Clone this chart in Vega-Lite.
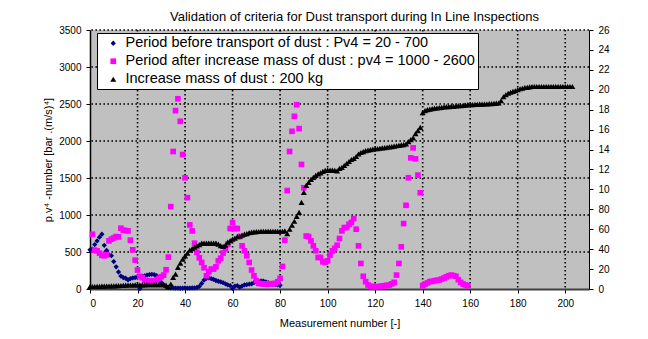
{
  "$schema": "https://vega.github.io/schema/vega-lite/v6.json",
  "width": 499,
  "height": 259,
  "autosize": {"type": "none"},
  "padding": {"left": 90, "top": 30, "right": 59, "bottom": 50},
  "background": "white",
  "config": {"font": "Liberation Sans", "view": {"fill": "#C0C0C0", "stroke": null}},
  "title": {"text": "Validation of criteria for Dust transport during In Line Inspections", "fontSize": 13, "fontWeight": "normal", "color": "black", "offset": 1, "dx": 15, "anchor": "middle"},
  "datasets": {
    "gx": [{"n":20},{"n":40},{"n":60},{"n":80},{"n":100},{"n":120},{"n":140},{"n":160},{"n":180},{"n":200}],
    "gy": [{"v":500},{"v":1000},{"v":1500},{"v":2000},{"v":2500},{"v":3000},{"v":3500}],
    "pts": [
      {"s":"B","n":0,"v":530},{"s":"B","n":1,"v":540},{"s":"B","n":2,"v":600},{"s":"B","n":3,"v":650},{"s":"B","n":4,"v":700},{"s":"B","n":5,"v":740},{"s":"B","n":6,"v":590},{"s":"B","n":7,"v":520},{"s":"B","n":8,"v":460},{"s":"B","n":9,"v":450},
      {"s":"B","n":10,"v":370},{"s":"B","n":11,"v":300},{"s":"B","n":12,"v":230},{"s":"B","n":13,"v":175},{"s":"B","n":14,"v":155},{"s":"B","n":15,"v":145},{"s":"B","n":16,"v":125},{"s":"B","n":17,"v":140},{"s":"B","n":18,"v":150},{"s":"B","n":19,"v":155},
      {"s":"B","n":20,"v":160},{"s":"B","n":21,"v":5},{"s":"B","n":22,"v":170},{"s":"B","n":23,"v":178},{"s":"B","n":24,"v":188},{"s":"B","n":25,"v":195},{"s":"B","n":26,"v":198},{"s":"B","n":27,"v":195},{"s":"B","n":28,"v":180},{"s":"B","n":29,"v":140},
      {"s":"B","n":30,"v":90},{"s":"B","n":31,"v":55},{"s":"B","n":32,"v":30},{"s":"B","n":33,"v":20},{"s":"B","n":34,"v":15},{"s":"B","n":35,"v":15},{"s":"B","n":36,"v":12},{"s":"B","n":37,"v":12},{"s":"B","n":38,"v":10},{"s":"B","n":39,"v":12},
      {"s":"B","n":40,"v":15},{"s":"B","n":41,"v":12},{"s":"B","n":42,"v":12},{"s":"B","n":43,"v":15},{"s":"B","n":44,"v":15},{"s":"B","n":45,"v":20},{"s":"B","n":46,"v":35},{"s":"B","n":47,"v":75},{"s":"B","n":48,"v":120},{"s":"B","n":49,"v":145},
      {"s":"B","n":50,"v":150},{"s":"B","n":51,"v":140},{"s":"B","n":52,"v":130},{"s":"B","n":53,"v":115},{"s":"B","n":54,"v":105},{"s":"B","n":55,"v":95},{"s":"B","n":56,"v":85},{"s":"B","n":57,"v":70},{"s":"B","n":58,"v":55},{"s":"B","n":59,"v":45},
      {"s":"B","n":60,"v":5},{"s":"B","n":61,"v":40},{"s":"B","n":62,"v":45},{"s":"B","n":63,"v":25},{"s":"B","n":64,"v":40},{"s":"B","n":65,"v":55},{"s":"B","n":66,"v":60},{"s":"B","n":67,"v":65},{"s":"B","n":68,"v":70},{"s":"B","n":69,"v":85},
      {"s":"B","n":70,"v":95},{"s":"B","n":71,"v":100},{"s":"B","n":72,"v":110},{"s":"B","n":73,"v":105},{"s":"B","n":74,"v":95},{"s":"B","n":75,"v":85},{"s":"B","n":76,"v":75},{"s":"B","n":77,"v":65},{"s":"B","n":78,"v":60},{"s":"B","n":79,"v":55},{"s":"B","n":80,"v":50},
      {"s":"M","n":1,"v":740},{"s":"M","n":2,"v":525},{"s":"M","n":3,"v":516},{"s":"M","n":4,"v":485},{"s":"M","n":5,"v":455},{"s":"M","n":6,"v":449},{"s":"M","n":7,"v":462},{"s":"M","n":8,"v":651},{"s":"M","n":9,"v":673},
      {"s":"M","n":10,"v":690},{"s":"M","n":11,"v":709},{"s":"M","n":12,"v":704},{"s":"M","n":13,"v":821},{"s":"M","n":14,"v":794},{"s":"M","n":15,"v":790},{"s":"M","n":16,"v":785},{"s":"M","n":17,"v":660},{"s":"M","n":18,"v":529},{"s":"M","n":19,"v":390},
      {"s":"M","n":20,"v":256},{"s":"M","n":21,"v":171},{"s":"M","n":22,"v":153},{"s":"M","n":23,"v":112},{"s":"M","n":24,"v":103},{"s":"M","n":25,"v":112},{"s":"M","n":26,"v":110},{"s":"M","n":27,"v":108},{"s":"M","n":28,"v":121},{"s":"M","n":29,"v":144},
      {"s":"M","n":30,"v":165},{"s":"M","n":31,"v":188},{"s":"M","n":32,"v":260},{"s":"M","n":33,"v":431},{"s":"M","n":34,"v":1113},{"s":"M","n":35,"v":1858},{"s":"M","n":36,"v":2410},{"s":"M","n":37,"v":2571},{"s":"M","n":38,"v":2266},{"s":"M","n":39,"v":1817},
      {"s":"M","n":40,"v":1503},{"s":"M","n":41,"v":1234},{"s":"M","n":42,"v":866},{"s":"M","n":43,"v":785},{"s":"M","n":44,"v":619},{"s":"M","n":45,"v":494},{"s":"M","n":46,"v":422},{"s":"M","n":47,"v":359},{"s":"M","n":48,"v":287},{"s":"M","n":49,"v":179},
      {"s":"M","n":50,"v":233},{"s":"M","n":51,"v":269},{"s":"M","n":52,"v":269},{"s":"M","n":53,"v":300},{"s":"M","n":54,"v":381},{"s":"M","n":55,"v":417},{"s":"M","n":56,"v":485},{"s":"M","n":57,"v":540},{"s":"M","n":58,"v":606},{"s":"M","n":59,"v":817},
      {"s":"M","n":60,"v":897},{"s":"M","n":61,"v":817},{"s":"M","n":62,"v":817},{"s":"M","n":63,"v":709},{"s":"M","n":64,"v":583},{"s":"M","n":65,"v":516},{"s":"M","n":66,"v":449},{"s":"M","n":67,"v":359},{"s":"M","n":68,"v":256},{"s":"M","n":69,"v":179},
      {"s":"M","n":70,"v":112},{"s":"M","n":71,"v":76},{"s":"M","n":72,"v":72},{"s":"M","n":73,"v":67},{"s":"M","n":74,"v":67},{"s":"M","n":75,"v":67},{"s":"M","n":76,"v":70},{"s":"M","n":77,"v":72},{"s":"M","n":78,"v":76},{"s":"M","n":79,"v":99},
      {"s":"M","n":80,"v":144},{"s":"M","n":81,"v":305},{"s":"M","n":82,"v":660},{"s":"M","n":83,"v":1330},{"s":"M","n":84,"v":1858},{"s":"M","n":85,"v":2131},{"s":"M","n":86,"v":2333},{"s":"M","n":87,"v":2490},{"s":"M","n":88,"v":2167},{"s":"M","n":89,"v":1683},
      {"s":"M","n":90,"v":1368},{"s":"M","n":91,"v":715},{"s":"M","n":92,"v":709},{"s":"M","n":93,"v":651},{"s":"M","n":94,"v":583},{"s":"M","n":95,"v":516},{"s":"M","n":96,"v":426},{"s":"M","n":97,"v":426},{"s":"M","n":98,"v":368},{"s":"M","n":99,"v":359},
      {"s":"M","n":100,"v":381},{"s":"M","n":101,"v":458},{"s":"M","n":102,"v":516},{"s":"M","n":103,"v":550},{"s":"M","n":104,"v":592},{"s":"M","n":105,"v":682},{"s":"M","n":106,"v":785},{"s":"M","n":107,"v":830},{"s":"M","n":108,"v":830},{"s":"M","n":109,"v":875},
      {"s":"M","n":110,"v":900},{"s":"M","n":111,"v":951},{"s":"M","n":112,"v":808},{"s":"M","n":113,"v":583},{"s":"M","n":114,"v":345},{"s":"M","n":115,"v":171},{"s":"M","n":116,"v":99},{"s":"M","n":117,"v":54},{"s":"M","n":118,"v":36},{"s":"M","n":119,"v":33},
      {"s":"M","n":120,"v":31},{"s":"M","n":121,"v":31},{"s":"M","n":122,"v":36},{"s":"M","n":123,"v":40},{"s":"M","n":124,"v":45},{"s":"M","n":125,"v":50},{"s":"M","n":126,"v":54},{"s":"M","n":127,"v":70},{"s":"M","n":128,"v":90},{"s":"M","n":129,"v":188},
      {"s":"M","n":130,"v":345},{"s":"M","n":131,"v":570},{"s":"M","n":132,"v":884},{"s":"M","n":133,"v":1131},{"s":"M","n":134,"v":1503},{"s":"M","n":135,"v":1772},{"s":"M","n":136,"v":1907},{"s":"M","n":137,"v":1759},{"s":"M","n":138,"v":1539},{"s":"M","n":139,"v":1301},
      {"s":"M","n":140,"v":45},{"s":"M","n":141,"v":67},{"s":"M","n":142,"v":81},{"s":"M","n":143,"v":99},{"s":"M","n":144,"v":105},{"s":"M","n":145,"v":112},{"s":"M","n":146,"v":118},{"s":"M","n":147,"v":121},{"s":"M","n":148,"v":135},{"s":"M","n":149,"v":148},
      {"s":"M","n":150,"v":165},{"s":"M","n":151,"v":179},{"s":"M","n":152,"v":188},{"s":"M","n":153,"v":180},{"s":"M","n":154,"v":171},{"s":"M","n":155,"v":126},{"s":"M","n":156,"v":90},{"s":"M","n":157,"v":67},{"s":"M","n":158,"v":54},{"s":"M","n":159,"v":45}
    ],
    "mass": [
      {"s":"T","n":0,"v":2.5},{"s":"T","n":1,"v":2.5},{"s":"T","n":2,"v":2.5},{"s":"T","n":3,"v":2.6},{"s":"T","n":4,"v":2.7},{"s":"T","n":5,"v":2.8},{"s":"T","n":6,"v":2.9},{"s":"T","n":7,"v":3},{"s":"T","n":8,"v":3},{"s":"T","n":9,"v":3.1},
      {"s":"T","n":10,"v":3.2},{"s":"T","n":11,"v":3.3},{"s":"T","n":12,"v":3.4},{"s":"T","n":13,"v":3.5},{"s":"T","n":14,"v":3.6},{"s":"T","n":15,"v":3.8},{"s":"T","n":16,"v":4},{"s":"T","n":17,"v":4},{"s":"T","n":18,"v":4},{"s":"T","n":19,"v":4.1},
      {"s":"T","n":20,"v":4.1},{"s":"T","n":21,"v":4.2},{"s":"T","n":22,"v":4.2},{"s":"T","n":23,"v":4.2},{"s":"T","n":24,"v":4.3},{"s":"T","n":25,"v":4.3},{"s":"T","n":26,"v":4.3},{"s":"T","n":27,"v":4.3},{"s":"T","n":28,"v":4.3},{"s":"T","n":29,"v":4.3},
      {"s":"T","n":30,"v":4.3},{"s":"T","n":31,"v":4.3},{"s":"T","n":32,"v":4},{"s":"T","n":33,"v":2},{"s":"T","n":34,"v":5},{"s":"T","n":35,"v":11.7},{"s":"T","n":36,"v":15},{"s":"T","n":37,"v":21.7},{"s":"T","n":38,"v":26},{"s":"T","n":39,"v":30},
      {"s":"T","n":40,"v":33.3},{"s":"T","n":41,"v":36},{"s":"T","n":42,"v":39},{"s":"T","n":43,"v":40.5},{"s":"T","n":44,"v":42},{"s":"T","n":45,"v":43.3},{"s":"T","n":46,"v":44.5},{"s":"T","n":47,"v":46},{"s":"T","n":48,"v":46},{"s":"T","n":49,"v":46},
      {"s":"T","n":50,"v":46},{"s":"T","n":51,"v":46},{"s":"T","n":52,"v":46},{"s":"T","n":53,"v":46},{"s":"T","n":54,"v":45},{"s":"T","n":55,"v":43.5},{"s":"T","n":56,"v":42.7},{"s":"T","n":57,"v":44},{"s":"T","n":58,"v":47},{"s":"T","n":59,"v":48.5},
      {"s":"T","n":60,"v":50},{"s":"T","n":61,"v":51},{"s":"T","n":62,"v":52.5},{"s":"T","n":63,"v":53},{"s":"T","n":64,"v":54},{"s":"T","n":65,"v":55},{"s":"T","n":66,"v":55.5},{"s":"T","n":67,"v":56.5},{"s":"T","n":68,"v":57},{"s":"T","n":69,"v":57.3},
      {"s":"T","n":70,"v":57.5},{"s":"T","n":71,"v":57.7},{"s":"T","n":72,"v":58},{"s":"T","n":73,"v":58},{"s":"T","n":74,"v":58},{"s":"T","n":75,"v":58},{"s":"T","n":76,"v":58},{"s":"T","n":77,"v":58},{"s":"T","n":78,"v":58},{"s":"T","n":79,"v":58},
      {"s":"T","n":80,"v":58},{"s":"T","n":81,"v":58},{"s":"T","n":82,"v":58.3},{"s":"T","n":83,"v":55.5},{"s":"T","n":84,"v":60},{"s":"T","n":85,"v":64},{"s":"T","n":86,"v":68},{"s":"T","n":87,"v":73},{"s":"T","n":88,"v":77},{"s":"T","n":89,"v":87},
      {"s":"T","n":90,"v":97},{"s":"T","n":91,"v":104},{"s":"T","n":92,"v":107},{"s":"T","n":93,"v":110},{"s":"T","n":94,"v":112},{"s":"T","n":95,"v":114},{"s":"T","n":96,"v":115.5},{"s":"T","n":97,"v":116.5},{"s":"T","n":98,"v":118},{"s":"T","n":99,"v":119},
      {"s":"T","n":100,"v":119.3},{"s":"T","n":101,"v":119.3},{"s":"T","n":102,"v":119.3},{"s":"T","n":103,"v":119},{"s":"T","n":104,"v":118.5},{"s":"T","n":105,"v":121},{"s":"T","n":106,"v":122},{"s":"T","n":107,"v":124},{"s":"T","n":108,"v":126},{"s":"T","n":109,"v":128},
      {"s":"T","n":110,"v":130},{"s":"T","n":111,"v":131},{"s":"T","n":112,"v":133},{"s":"T","n":113,"v":135.5},{"s":"T","n":114,"v":137},{"s":"T","n":115,"v":138},{"s":"T","n":116,"v":139},{"s":"T","n":117,"v":139.5},{"s":"T","n":118,"v":140},{"s":"T","n":119,"v":140.5},
      {"s":"T","n":120,"v":140.8},{"s":"T","n":121,"v":141},{"s":"T","n":122,"v":141.3},{"s":"T","n":123,"v":141.6},{"s":"T","n":124,"v":142},{"s":"T","n":125,"v":142.3},{"s":"T","n":126,"v":142.6},{"s":"T","n":127,"v":143},{"s":"T","n":128,"v":143.4},{"s":"T","n":129,"v":143.8},
      {"s":"T","n":130,"v":144.2},{"s":"T","n":131,"v":144.6},{"s":"T","n":132,"v":145},{"s":"T","n":133,"v":145.7},{"s":"T","n":134,"v":148},{"s":"T","n":135,"v":150},{"s":"T","n":136,"v":151.7},{"s":"T","n":137,"v":156},{"s":"T","n":138,"v":159},{"s":"T","n":139,"v":162.3},
      {"s":"T","n":140,"v":177},{"s":"T","n":141,"v":179},{"s":"T","n":142,"v":180},{"s":"T","n":143,"v":180.5},{"s":"T","n":144,"v":181},{"s":"T","n":145,"v":181.5},{"s":"T","n":146,"v":181.7},{"s":"T","n":147,"v":182},{"s":"T","n":148,"v":182.3},{"s":"T","n":149,"v":182.7},
      {"s":"T","n":150,"v":183},{"s":"T","n":151,"v":183},{"s":"T","n":152,"v":183.3},{"s":"T","n":153,"v":183.3},{"s":"T","n":154,"v":183.7},{"s":"T","n":155,"v":184},{"s":"T","n":156,"v":184},{"s":"T","n":157,"v":184.3},{"s":"T","n":158,"v":184.5},{"s":"T","n":159,"v":185},
      {"s":"T","n":160,"v":185},{"s":"T","n":161,"v":185},{"s":"T","n":162,"v":185.3},{"s":"T","n":163,"v":185.3},{"s":"T","n":164,"v":185.5},{"s":"T","n":165,"v":185.5},{"s":"T","n":166,"v":185.7},{"s":"T","n":167,"v":185.7},{"s":"T","n":168,"v":186},{"s":"T","n":169,"v":186},
      {"s":"T","n":170,"v":186.3},{"s":"T","n":171,"v":186.5},{"s":"T","n":172,"v":186.7},{"s":"T","n":173,"v":189},{"s":"T","n":174,"v":193},{"s":"T","n":175,"v":195},{"s":"T","n":176,"v":196.5},{"s":"T","n":177,"v":197.5},{"s":"T","n":178,"v":198.3},{"s":"T","n":179,"v":199},
      {"s":"T","n":180,"v":200},{"s":"T","n":181,"v":201},{"s":"T","n":182,"v":201.5},{"s":"T","n":183,"v":202.3},{"s":"T","n":184,"v":202.5},{"s":"T","n":185,"v":203},{"s":"T","n":186,"v":203.3},{"s":"T","n":187,"v":203.3},{"s":"T","n":188,"v":203.3},{"s":"T","n":189,"v":203.3},
      {"s":"T","n":190,"v":203.3},{"s":"T","n":191,"v":203.3},{"s":"T","n":192,"v":203.3},{"s":"T","n":193,"v":203.3},{"s":"T","n":194,"v":203.3},{"s":"T","n":195,"v":203.3},{"s":"T","n":196,"v":203.3},{"s":"T","n":197,"v":203.3},{"s":"T","n":198,"v":203.3},{"s":"T","n":199,"v":203.3},
      {"s":"T","n":200,"v":203.3},{"s":"T","n":201,"v":203.3},{"s":"T","n":202,"v":203.3},{"s":"T","n":203,"v":203.3}
    ]
  },
  "layer": [
    {
      "data": {"name": "gx"},
      "mark": {"type": "rule", "color": "black", "strokeWidth": 1.6, "strokeDash": [1.6, 2.4]},
      "encoding": {
        "x": {
          "field": "n", "type": "quantitative",
          "scale": {"domain": [0, 210], "nice": false},
          "axis": {
            "values": [0, 20, 40, 60, 80, 100, 120, 140, 160, 180, 200],
            "title": "Measurement number [-]",
            "grid": false,
            "domainColor": "#404040", "domainWidth": 2,
            "tickColor": "black", "tickSize": 4,
            "labelFontSize": 10, "labelColor": "black", "labelPadding": 5,
            "titleFontSize": 11, "titleFontWeight": "normal", "titleColor": "black", "titlePadding": 9
          }
        }
      }
    },
    {
      "layer": [
        {
          "data": {"name": "gy"},
          "mark": {"type": "rule", "color": "black", "strokeWidth": 1.6, "strokeDash": [1.6, 2.4]},
          "encoding": {
            "y": {
              "field": "v", "type": "quantitative",
              "scale": {"domain": [0, 3500], "nice": false},
              "axis": {
                "values": [0, 500, 1000, 1500, 2000, 2500, 3000, 3500],
                "format": "d",
                "title": "p.v⁴ -number [bar .(m/s)⁴]",
                "grid": false,
                "domainColor": "black", "domainWidth": 1.5,
                "tickColor": "black", "tickSize": 4,
                "labelFontSize": 10, "labelColor": "black", "labelPadding": 5,
                "titleFontSize": 11, "titleFontWeight": "normal", "titleColor": "black", "titlePadding": 5
              }
            }
          }
        },
        {
          "data": {"name": "pts"},
          "mark": {"type": "point", "filled": true, "opacity": 1},
          "encoding": {
            "x": {
              "field": "n", "type": "quantitative",
              "scale": {"domain": [0, 210], "nice": false},
              "axis": {
                "values": [0, 20, 40, 60, 80, 100, 120, 140, 160, 180, 200],
                "title": "Measurement number [-]",
                "grid": false,
                "domainColor": "#404040", "domainWidth": 2,
                "tickColor": "black", "tickSize": 4,
                "labelFontSize": 10, "labelColor": "black", "labelPadding": 5,
                "titleFontSize": 11, "titleFontWeight": "normal", "titleColor": "black", "titlePadding": 9
              }
            },
            "y": {
              "field": "v", "type": "quantitative",
              "scale": {"domain": [0, 3500], "nice": false},
              "axis": {
                "values": [0, 500, 1000, 1500, 2000, 2500, 3000, 3500],
                "format": "d",
                "title": "p.v⁴ -number [bar .(m/s)⁴]",
                "grid": false,
                "domainColor": "black", "domainWidth": 1.5,
                "tickColor": "black", "tickSize": 4,
                "labelFontSize": 10, "labelColor": "black", "labelPadding": 5,
                "titleFontSize": 11, "titleFontWeight": "normal", "titleColor": "black", "titlePadding": 5
              }
            },
            "color": {
              "field": "s", "type": "nominal",
              "scale": {"domain": ["B", "M", "T"], "range": ["#000080", "#FF00FF", "#000000"]},
              "legend": {
                "orient": "none", "legendX": 7, "legendY": 3, "title": null,
                "fillColor": "white", "strokeColor": "black", "padding": 3,
                "labelFontSize": 14.5, "labelLimit": 0, "labelColor": "black", "labelOffset": 5, "symbolOffset": 6, "rowPadding": 3,
                "zindex": 2,
                "labelExpr": "datum.value == 'B' ? 'Period before transport of dust : Pv4 = 20 - 700' : datum.value == 'M' ? 'Period after increase mass of dust : pv4 = 1000 - 2600' : 'Increase mass of dust : 200 kg'"
              }
            },
            "shape": {
              "field": "s", "type": "nominal",
              "scale": {"domain": ["B", "M", "T"], "range": ["diamond", "square", "triangle-up"]}
            },
            "size": {
              "field": "s", "type": "nominal",
              "scale": {"domain": ["B", "M", "T"], "range": [28, 36, 14]}
            }
          }
        }
      ]
    },
    {
      "data": {"name": "mass"},
      "mark": {"type": "point", "filled": true, "opacity": 1},
      "encoding": {
        "x": {
          "field": "n", "type": "quantitative",
          "scale": {"domain": [0, 210], "nice": false},
          "axis": {
            "values": [0, 20, 40, 60, 80, 100, 120, 140, 160, 180, 200],
            "title": "Measurement number [-]",
            "grid": false,
            "domainColor": "#404040", "domainWidth": 2,
            "tickColor": "black", "tickSize": 4,
            "labelFontSize": 10, "labelColor": "black", "labelPadding": 5,
            "titleFontSize": 11, "titleFontWeight": "normal", "titleColor": "black", "titlePadding": 9
          }
        },
        "y": {
          "field": "v", "type": "quantitative",
          "scale": {"domain": [0, 260], "nice": false},
          "axis": {
            "orient": "right",
            "values": [0, 20, 40, 60, 80, 100, 120, 140, 160, 180, 200, 220, 240, 260],
            "labelExpr": "substring(datum.label, 0, 2)",
            "title": null, "grid": false,
            "domainColor": "black", "domainWidth": 1,
            "tickColor": "black", "tickSize": 4,
            "labelFontSize": 10, "labelColor": "black", "labelPadding": 5
          }
        },
        "color": {
          "field": "s", "type": "nominal",
          "scale": {"domain": ["B", "M", "T"], "range": ["#000080", "#FF00FF", "#000000"]}
        },
        "shape": {
          "field": "s", "type": "nominal",
          "scale": {"domain": ["B", "M", "T"], "range": ["diamond", "square", "triangle-up"]}
        },
        "size": {
          "field": "s", "type": "nominal",
          "scale": {"domain": ["B", "M", "T"], "range": [28, 36, 14]}
        }
      }
    }
  ],
  "resolve": {"scale": {"y": "independent"}}
}
